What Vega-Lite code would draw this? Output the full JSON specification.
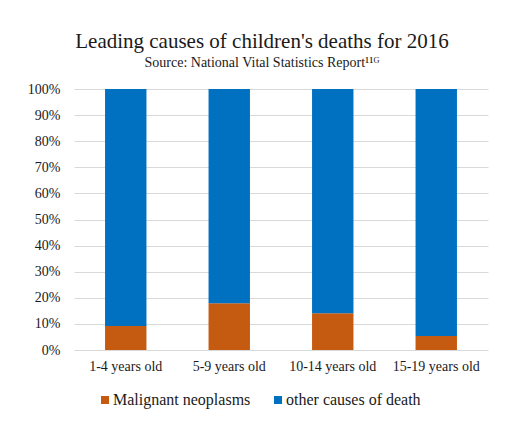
{
  "$schema": "https://vega.github.io/schema/vega-lite/v6.json",
  "width": 414,
  "height": 261,
  "autosize": "none",
  "padding": {"left": 74, "top": 89, "right": 20, "bottom": 71},
  "background": "white",
  "title": {
    "text": "Leading causes of children's deaths for 2016",
    "subtitle": "Source: National Vital Statistics Report¹¹ᴳ",
    "anchor": "middle",
    "frame": "group",
    "dx": -19,
    "offset": 12,
    "font": "Liberation Serif",
    "fontSize": 21,
    "fontWeight": "normal",
    "color": "#1a1a1a",
    "subtitleFont": "Liberation Serif",
    "subtitleFontSize": 14,
    "subtitleColor": "#1a1a1a",
    "subtitlePadding": 4
  },
  "data": {
    "values": [
      {"age": "1-4 years old", "cause": "Malignant neoplasms", "share": 0.092},
      {"age": "1-4 years old", "cause": "other causes of death", "share": 0.908},
      {"age": "5-9 years old", "cause": "Malignant neoplasms", "share": 0.179},
      {"age": "5-9 years old", "cause": "other causes of death", "share": 0.821},
      {"age": "10-14 years old", "cause": "Malignant neoplasms", "share": 0.141},
      {"age": "10-14 years old", "cause": "other causes of death", "share": 0.859},
      {"age": "15-19 years old", "cause": "Malignant neoplasms", "share": 0.054},
      {"age": "15-19 years old", "cause": "other causes of death", "share": 0.946}
    ]
  },
  "mark": {"type": "bar"},
  "encoding": {
    "x": {
      "field": "age",
      "type": "nominal",
      "sort": ["1-4 years old", "5-9 years old", "10-14 years old", "15-19 years old"],
      "scale": {"paddingInner": 0.6, "paddingOuter": 0.3},
      "axis": {
        "title": null,
        "labelAngle": 0,
        "ticks": false,
        "domain": false,
        "labelPadding": 9,
        "labelFont": "Liberation Serif",
        "labelFontSize": 14,
        "labelColor": "#1a1a1a"
      }
    },
    "y": {
      "field": "share",
      "type": "quantitative",
      "stack": "zero",
      "scale": {"domain": [0, 1], "nice": false},
      "axis": {
        "title": null,
        "format": ".0%",
        "values": [0, 0.1, 0.2, 0.3, 0.4, 0.5, 0.6, 0.7, 0.8, 0.9, 1],
        "labelOverlap": false,
        "ticks": false,
        "domain": false,
        "labelPadding": 14,
        "gridColor": "#d9d9d9",
        "gridWidth": 1,
        "labelFont": "Liberation Serif",
        "labelFontSize": 14,
        "labelColor": "#1a1a1a"
      }
    },
    "color": {
      "field": "cause",
      "type": "nominal",
      "scale": {
        "domain": ["Malignant neoplasms", "other causes of death"],
        "range": ["#C55A11", "#0070C0"]
      },
      "legend": {
        "title": null,
        "orient": "none",
        "direction": "horizontal",
        "legendX": 23,
        "legendY": 303,
        "symbolType": "square",
        "symbolSize": 64,
        "symbolStrokeWidth": 0,
        "labelFont": "Liberation Serif",
        "labelFontSize": 16,
        "labelColor": "#1a1a1a",
        "labelOffset": 0,
        "columnPadding": 19
      }
    },
    "order": {"field": "cause", "sort": "ascending"}
  },
  "config": {
    "view": {"stroke": null}
  }
}
